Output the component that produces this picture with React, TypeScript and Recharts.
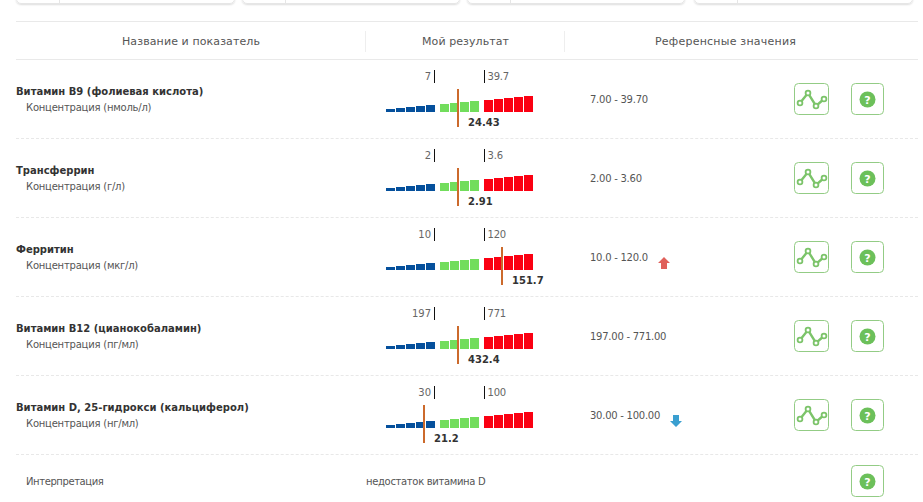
import { BarChart, Bar, Cell, XAxis, YAxis, ReferenceLine, Label } from 'recharts'

// gauge scale: one unit per bar slot, zones are separated by a small gap
const slots = [1, 2, 3, 4, 5, 6.4, 7.4, 8.4, 9.4, 10.8, 11.8, 12.8, 13.8, 14.8]
const levels = [3, 4, 5, 6, 7, 8, 9, 10, 11, 12, 13, 14, 15, 16]
const zones = ['low', 'low', 'low', 'low', 'low', 'norm', 'norm', 'norm', 'norm', 'high', 'high', 'high', 'high', 'high']

const names = [
  'Витамин B9 (фолиевая кислота)',
  'Трансферрин',
  'Ферритин',
  'Витамин B12 (цианокобаламин)',
  'Витамин D, 25-гидрокси (кальциферол)',
]
const units = [
  'Концентрация (нмоль/л)',
  'Концентрация (г/л)',
  'Концентрация (мкг/л)',
  'Концентрация (пг/мл)',
  'Концентрация (нг/мл)',
]
const lowLabels = ['7', '2', '10', '197', '30']
const highLabels = ['39.7', '3.6', '120', '771', '100']
const results = ['24.43', '2.91', '151.7', '432.4', '21.2']
const markers = [7.7, 7.7, 12.1, 7.7, 4.3]
const ranges = ['7.00 - 39.70', '2.00 - 3.60', '10.0 - 120.0', '197.00 - 771.00', '30.00 - 100.00']
const flags = ['', '', 'up', '', 'down']

const lowEdge = 5.35
const highEdge = 10.35

const zoneColors: Record<string, string> = { low: '#05509c', norm: '#72dd5c', high: '#fb0012' }
const gaugeData = slots.map((slot, i) => ({ slot, level: levels[i], zone: zones[i] }))

const font = '"DejaVu Sans", sans-serif'
const textColor = '#555'
const green = '#93cc85'

function Txt({ x, y, children, bold, color, size, spacing }: any) {
  return (
    <div
      style={{
        position: 'absolute',
        left: x,
        top: y - 7,
        height: 16,
        lineHeight: '16px',
        fontFamily: font,
        fontSize: size ?? 10,
        fontWeight: bold ? 700 : 400,
        color: color ?? textColor,
        letterSpacing: spacing ?? 0,
        whiteSpace: 'nowrap',
      }}
    >
      {children}
    </div>
  )
}

function HLine({ y, dashed }: { y: number; dashed?: boolean }) {
  return (
    <div
      style={{
        position: 'absolute',
        left: 16,
        top: y,
        width: 902,
        borderTop: dashed ? '1px dashed #e8e8e8' : '1px solid #e9e9e9',
      }}
    />
  )
}

function Gauge({ row, top }: { row: number; top: number }) {
  const marker = markers[row]
  return (
    <div style={{ position: 'absolute', left: 380, top }}>
      <BarChart
        width={170}
        height={70}
        data={gaugeData}
        margin={{ top: 0, right: 0, bottom: 0, left: 0 }}
        barSize={9}
      >
        <XAxis type="number" dataKey="slot" domain={[-0.1, 16.9]} hide />
        <YAxis type="number" domain={[-20, 50]} hide />
        <Bar dataKey="level" isAnimationActive={false}>
          {gaugeData.map((d) => (
            <Cell key={d.slot} fill={zoneColors[d.zone]} />
          ))}
        </Bar>
        <ReferenceLine
          segment={[{ x: lowEdge, y: 42 }, { x: lowEdge, y: 29 }]}
          stroke="#111"
          strokeWidth={1}
        >
          <Label
            content={({ viewBox }: any) => (
              <text x={viewBox.x - 3.5} y={viewBox.y + 10} textAnchor="end" fontFamily={font} fontSize={10} fill="#666">
                {lowLabels[row]}
              </text>
            )}
          />
        </ReferenceLine>
        <ReferenceLine
          segment={[{ x: highEdge, y: 42 }, { x: highEdge, y: 29 }]}
          stroke="#111"
          strokeWidth={1}
        >
          <Label
            content={({ viewBox }: any) => (
              <text x={viewBox.x + 3} y={viewBox.y + 10} letterSpacing={-0.2} fontFamily={font} fontSize={10} fill="#666">
                {highLabels[row]}
              </text>
            )}
          />
        </ReferenceLine>
        <ReferenceLine
          segment={[{ x: marker, y: 23 }, { x: marker, y: -15 }]}
          stroke="#cc6a2c"
          strokeWidth={2}
        >
          <Label
            content={({ viewBox }: any) => (
              <text x={viewBox.x + 10} y={viewBox.y + 37} fontFamily={font} fontSize={10} fontWeight={700} fill="#333">
                {results[row]}
              </text>
            )}
          />
        </ReferenceLine>
      </BarChart>
    </div>
  )
}

function IconBox({ x, y, w, children }: any) {
  return (
    <svg style={{ position: 'absolute', left: x, top: y }} width={w} height={32}>
      <rect x={0.5} y={0.5} width={w - 1} height={31} rx={4} fill="#fff" stroke={green} />
      {children}
    </svg>
  )
}

function TrendIcon({ y }: { y: number }) {
  const pts = [[6, 20], [14, 10], [22, 23], [30, 16]]
  return (
    <IconBox x={794} y={y} w={35}>
      <polyline points={pts.map((p) => p.join(',')).join(' ')} fill="none" stroke="#7cc46a" strokeWidth={2.4} />
      {pts.map((p) => (
        <circle key={p[0]} cx={p[0]} cy={p[1]} r={2.4} fill="#fff" stroke="#7cc46a" strokeWidth={1.8} />
      ))}
    </IconBox>
  )
}

function HelpIcon({ y }: { y: number }) {
  return (
    <IconBox x={851} y={y} w={33}>
      <circle cx={16.5} cy={16.5} r={8} fill="#6cc05a" />
      <text x={16.5} y={20.5} textAnchor="middle" fontFamily={font} fontSize={11} fontWeight={700} fill="#fff">
        ?
      </text>
    </IconBox>
  )
}

const cards = [
  [16, 235, 59],
  [242, 460, 285],
  [467, 685, 510],
  [694, 913, 737],
]

export default function App() {
  return (
    <div style={{ position: 'absolute', left: 0, top: 0, width: 923, height: 502, overflow: 'hidden', background: '#fff' }}>
      {cards.map(([a, b, d]) => (
        <div key={a}>
          <div
            style={{
              position: 'absolute',
              left: a,
              top: -20,
              width: b - a,
              height: 24,
              boxSizing: 'border-box',
              border: '1px solid #e6e6e6',
              borderRadius: 5,
              boxShadow: '0 1px 2px #ddd',
            }}
          />
          <div style={{ position: 'absolute', left: d, top: 0, width: 1, height: 4, background: '#e6e6e6' }} />
        </div>
      ))}

      <HLine y={21} />
      <HLine y={59} />
      <div style={{ position: 'absolute', left: 365, top: 31, width: 1, height: 21, background: '#eee' }} />
      <div style={{ position: 'absolute', left: 564, top: 31, width: 1, height: 21, background: '#eee' }} />
      <Txt x={122} y={41} size={11} spacing={0.1}>Название и показатель</Txt>
      <Txt x={422} y={41} size={11} spacing={0.08}>Мой результат</Txt>
      <Txt x={655} y={41} size={11} spacing={0.22}>Референсные значения</Txt>

      {names.map((name, i) => {
        const dy = i * 79
        return (
          <div key={name}>
            <Txt x={16} y={91 + dy} bold color="#333">{name}</Txt>
            <Txt x={26} y={107 + dy} spacing={-0.22}>{units[i]}</Txt>
            <Gauge row={i} top={62 + dy} />
            <Txt x={590} y={99 + dy} spacing={-0.25}>{ranges[i]}</Txt>
            {flags[i] === 'up' && (
              <svg style={{ position: 'absolute', left: 658, top: 257 }} width={12} height={12}>
                <polygon points="6,0 12,6 9,6 9,12 3,12 3,6 0,6" fill="#e0605a" />
              </svg>
            )}
            {flags[i] === 'down' && (
              <svg style={{ position: 'absolute', left: 670, top: 415 }} width={12} height={12}>
                <polygon points="3,0 9,0 9,6 12,6 6,12 0,6 3,6" fill="#3a9fd0" />
              </svg>
            )}
            <TrendIcon y={83 + dy} />
            <HelpIcon y={83 + dy} />
            <HLine y={138 + dy} dashed />
          </div>
        )
      })}

      <Txt x={26} y={481} spacing={-0.4}>Интерпретация</Txt>
      <Txt x={366} y={481} spacing={-0.33}>недостаток витамина D</Txt>
      <HelpIcon y={465} />
    </div>
  )
}
